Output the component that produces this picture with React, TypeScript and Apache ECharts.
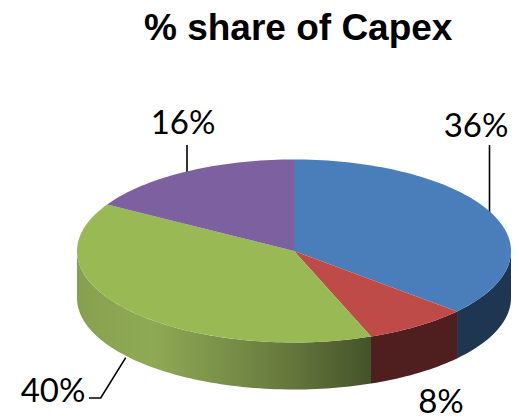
import React, { useEffect, useRef } from "react";
import * as echarts from "echarts";

const titleText = "% share of Capex";
const sliceNames = ["A", "B", "C", "D"];
const shareValues = [36, 8, 40, 16];
const topColors = ["#4A7EBB", "#BE4B48", "#98B954", "#7D60A0"];

const cx = 294;
const cy = 251;
const rx = 217;
const ry = 91.5;
const depth = 47;
const total = shareValues.reduce((a, b) => a + b, 0);

// The tilted disc is drawn in perspective, so angles shift a little off the axis.
function warp(deg: number): number {
  return deg + 2.2 * Math.sin((deg * Math.PI) / 180);
}
function pt(deg: number, dy = 0): number[] {
  const r = (deg * Math.PI) / 180;
  return [cx + rx * Math.sin(r), cy - ry * Math.cos(r) + dy];
}
function arc(a: number, b: number, dy = 0): number[][] {
  const n = Math.max(2, Math.ceil(Math.abs(b - a) / 1.5));
  const out: number[][] = [];
  for (let i = 0; i <= n; i++) out.push(pt(a + ((b - a) * i) / n, dy));
  return out;
}
function sideFill(i: number): any {
  if (i === 0) return "#1F3652";
  if (i === 1) return "#4E1F1E";
  if (i === 2)
    return new echarts.graphic.LinearGradient(0, 0, 1, 0, [
      { offset: 0, color: "#87A04F" },
      { offset: 0.25, color: "#8FAA54" },
      { offset: 0.55, color: "#758B46" },
      { offset: 0.75, color: "#62743A" },
      { offset: 1, color: "#43532A" },
    ]);
  return "#4B3A60";
}

function renderSlice(_params: any, api: any) {
  const i = api.value(0);
  let startVal = 0;
  for (let k = 0; k < i; k++) startVal += shareValues[k];
  const a0 = warp((startVal / total) * 360);
  const a1 = warp(((startVal + api.value(1)) / total) * 360);
  const children: any[] = [];
  const s = Math.max(a0, 90);
  const e = Math.min(a1, 270);
  if (e > s) {
    const pts = [...arc(s, e), ...arc(e, s, depth)];
    children.push({
      type: "polygon",
      shape: { points: pts },
      style: { fill: sideFill(i), stroke: null },
    });
  }
  children.push({
    type: "polygon",
    shape: { points: [[cx, cy], ...arc(a0, a1)] },
    style: { fill: topColors[i], stroke: null },
  });
  return { type: "group", children };
}

export default function App() {
  const ref = useRef<HTMLDivElement>(null);
  useEffect(() => {
    const chart = echarts.init(ref.current!, undefined, { renderer: "svg" });
    const labelStyle = { font: "33px Lato", fill: "#000000" };
    const lineStyle = { stroke: "#000000", lineWidth: 1.6, fill: null };
    chart.setOption({
      animation: false,
      backgroundColor: "#ffffff",
      title: {
        text: titleText,
        left: 139,
        top: 4,
        textStyle: {
          fontFamily: "Liberation Sans",
          fontWeight: "bold",
          fontSize: 37,
          color: "#000000",
        },
      },
      series: [
        {
          type: "custom",
          coordinateSystem: "none",
          renderItem: renderSlice,
          data: shareValues.map((v, i) => ({ name: sliceNames[i], value: [i, v] })),
          silent: true,
        },
      ],
      graphic: [
        { type: "text", x: 476, y: 124, style: { ...labelStyle, text: `${shareValues[0]}%`, textAlign: "center", textVerticalAlign: "middle" } },
        { type: "text", x: 441, y: 400, style: { ...labelStyle, text: `${shareValues[1]}%`, textAlign: "center", textVerticalAlign: "middle" } },
        { type: "text", x: 53, y: 389, style: { ...labelStyle, text: `${shareValues[2]}%`, textAlign: "center", textVerticalAlign: "middle" } },
        { type: "text", x: 183, y: 121, style: { ...labelStyle, text: `${shareValues[3]}%`, textAlign: "center", textVerticalAlign: "middle" } },
        { type: "polyline", shape: { points: [[489.5, 145], [489.5, 213]] }, style: lineStyle },
        { type: "polyline", shape: { points: [[187, 145], [187, 172]] }, style: lineStyle },
        { type: "polyline", shape: { points: [[125.7, 357.7], [100.7, 398], [89, 398]] }, style: lineStyle },
      ],
    });
    return () => chart.dispose();
  }, []);
  return (
    <div
      ref={ref}
      style={{ position: "fixed", left: 0, top: 0, width: 519, height: 419 }}
    />
  );
}
